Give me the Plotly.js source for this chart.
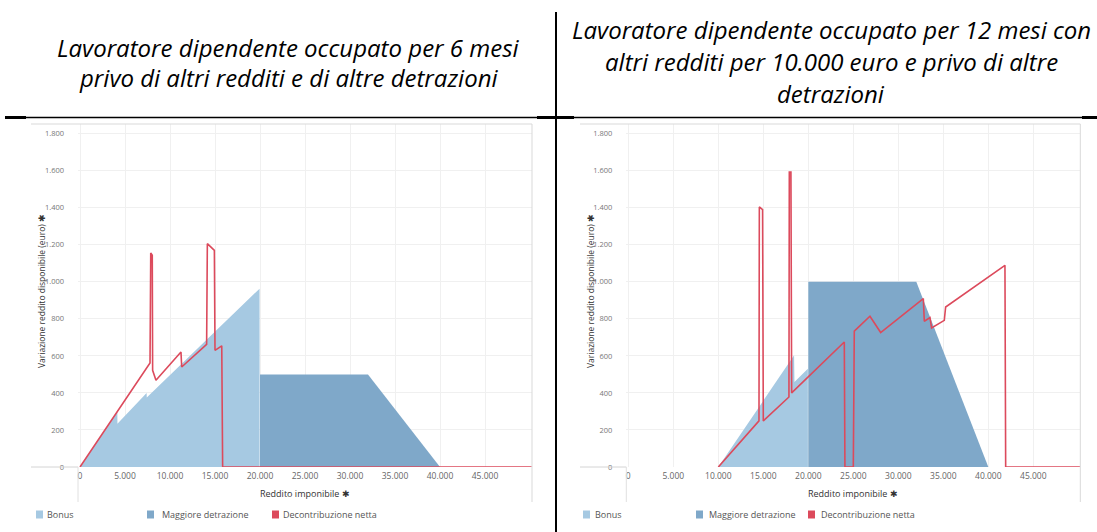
<!DOCTYPE html>
<html>
<head>
<meta charset="utf-8">
<script src="https://cdn.plot.ly/plotly-3.0.1.min.js"></script>
<style>html,body{margin:0;padding:0;background:#fff;}#chart{width:1097px;height:532px;}</style>
</head>
<body>
<div id="chart"></div>
<script>
// ---------- DATA ----------
const leftTitleLines = ["Lavoratore dipendente occupato per 6 mesi", "privo di altri redditi e di altre detrazioni"];
const rightTitleLines = ["Lavoratore dipendente occupato per 12 mesi con", "altri redditi per 10.000 euro e privo di altre", "detrazioni"];
const seriesNames = ["Bonus", "Maggiore detrazione", "Decontribuzione netta"];
const xTickValues = [0, 5000, 10000, 15000, 20000, 25000, 30000, 35000, 40000, 45000];
const yTickValues = [0, 200, 400, 600, 800, 1000, 1200, 1400, 1600, 1800];
const xAxisTitle = "Reddito imponibile ✱";
const yAxisTitle = "Variazione reddito disponibile (euro) ✱";

// Left chart
const leftBonusX = [0, 4150, 4160, 7400, 7420, 19950, 19960];
const leftBonusY = [0, 300, 234, 400, 375, 963, 0];
const leftDetrX = [20000, 20000, 32000, 40000];
const leftDetrY = [0, 500, 500, 0];
const leftDecoX = [0, 7780, 7860, 8030, 8070, 8440, 11220, 11300, 14070, 14150, 14930, 15000, 15750, 15850, 50200];
const leftDecoY = [0, 562, 1156, 1143, 522, 468, 621, 540, 662, 1206, 1170, 630, 654, 0, 0];

// Right chart
const rightBonusX = [10000, 18420, 18460, 19950, 19960];
const rightBonusY = [0, 603, 459, 531, 0];
const rightDetrX = [20000, 20000, 32000, 40000];
const rightDetrY = [0, 1000, 1000, 0];
const rightDecoX = [10000, 14520, 14560, 14920, 15000, 17850, 17890, 18070, 18150, 24000, 24070, 25000, 25110, 26850, 28040, 32780, 32890, 33520, 33700, 35110, 35260, 41850, 41930, 50200];
const rightDecoY = [0, 249, 1404, 1390, 249, 378, 1593, 1593, 400, 675, 0, 0, 734, 814, 726, 909, 787, 807, 751, 792, 864, 1089, 0, 0];

// ---------- STYLE ----------
const W = 1097, H = 532;
const C_BONUS = '#a6c9e2', C_DETR = '#7fa8c9', C_DECO = '#dc4a5c';
const FONT = 'Open Sans, Noto Sans, sans-serif';
const px = v => v / W;
const py = v => 1 - v / H;

function areaTrace(x, y, color, name, xa, ya) {
  return {x, y, type: 'scatter', mode: 'lines', fill: 'tozeroy', fillcolor: color,
    line: {width: 0, color: color}, name, xaxis: xa, yaxis: ya, showlegend: false, hoverinfo: 'skip'};
}
function lineTrace(x, y, color, name, xa, ya) {
  return {x, y, type: 'scatter', mode: 'lines', line: {width: 1.6, color: color},
    name, xaxis: xa, yaxis: ya, showlegend: false, hoverinfo: 'skip'};
}

const data = [
  areaTrace(leftBonusX, leftBonusY, C_BONUS, seriesNames[0], 'x', 'y'),
  areaTrace(leftDetrX, leftDetrY, C_DETR, seriesNames[1], 'x', 'y'),
  lineTrace(leftDecoX, leftDecoY, C_DECO, seriesNames[2], 'x', 'y'),
  areaTrace(rightBonusX, rightBonusY, C_BONUS, seriesNames[0], 'x2', 'y2'),
  areaTrace(rightDetrX, rightDetrY, C_DETR, seriesNames[1], 'x2', 'y2'),
  lineTrace(rightDecoX, rightDecoY, C_DECO, seriesNames[2], 'x2', 'y2')
];

const panels = [
  {left: 78, right: 532, outer: 31, titleX: 288, titleLines: leftTitleLines, titleY: [47, 77.5], ytX: 41,
   legend: [[36, 45], [147, 160], [272, 281]]},
  {left: 626.3, right: 1080.3, outer: 580, titleX: 831, titleLines: rightTitleLines, titleY: [30, 61, 93], ytX: 590,
   legend: [[583, 593], [696, 707], [808, 819]]}
];
const TOP = 124, BOT = 467, AXB = 502, LEGY = 514.5;

function xAxis(p, anchor) {
  return {domain: [px(p.left), px(p.right)], range: [-222, 50222], anchor,
    tickvals: xTickValues, tickformat: ',d', showgrid: true, gridcolor: '#f0f0f0', gridwidth: 1,
    zeroline: false, showline: false, ticks: '', ticklabelstandoff: 2,
    tickfont: {family: FONT, size: 8.5, color: '#666'}, fixedrange: true};
}
function yAxis(p, anchor) {
  return {domain: [py(BOT), py(TOP)], range: [0, 1852], anchor,
    tickvals: yTickValues, tickformat: ',d', showgrid: true, gridcolor: '#f0f0f0', gridwidth: 1,
    zeroline: false, showline: false, ticks: '', ticklabelstandoff: 13,
    tickfont: {family: FONT, size: 7.5, color: '#777'}, fixedrange: true};
}

const shapes = [];
const annotations = [];
const L = (x0, y0, x1, y1, color, w) => shapes.push({type: 'line', xref: 'paper', yref: 'paper',
  x0: px(x0), y0: py(y0), x1: px(x1), y1: py(y1), line: {color, width: w}});

panels.forEach((p, i) => {
  // panel borders
  L(p.outer, TOP, p.right, TOP, '#d9d9d9', 1);
  L(p.right, TOP, p.right, AXB, '#d9d9d9', 1);
  L(p.outer, BOT, p.left, BOT, '#d4d4d4', 1);
  L(p.left, BOT, p.left, AXB, '#e0e0e0', 1);
  // chart title, one annotation per line
  p.titleLines.forEach((t, k) => {
    annotations.push({xref: 'paper', yref: 'paper', x: px(p.titleX), y: py(p.titleY[k]), xanchor: 'center', yanchor: 'middle',
      text: '<i>' + t + '</i>', showarrow: false, align: 'center',
      font: {family: 'Open Sans, sans-serif', size: 24, color: '#000'}});
  });
  // axis titles
  annotations.push({xref: 'paper', yref: 'paper', x: px((p.left + p.right) / 2), y: py(493), xanchor: 'center', yanchor: 'middle',
    text: xAxisTitle, showarrow: false, font: {family: FONT, size: 9, color: '#333'}});
  annotations.push({xref: 'paper', yref: 'paper', x: px(p.ytX), y: py(291), xanchor: 'center', yanchor: 'middle',
    text: yAxisTitle, textangle: -90, showarrow: false, font: {family: FONT, size: 8.5, color: '#333'}});
  // legend
  const cols = [C_BONUS, C_DETR, C_DECO];
  p.legend.forEach((pos, k) => {
    shapes.push({type: 'rect', xref: 'paper', yref: 'paper', x0: px(pos[0]), x1: px(pos[0] + 7),
      y0: py(LEGY + 4), y1: py(LEGY - 4), fillcolor: cols[k], line: {width: 0}});
    annotations.push({xref: 'paper', yref: 'paper', x: px(pos[1]), y: py(LEGY), xanchor: 'left', yanchor: 'middle',
      text: seriesNames[k], showarrow: false, font: {family: FONT, size: 9, color: '#555'}});
  });
});

// document table lines
L(556, 12, 556, 532, '#000', 2);
L(5, 117.5, 1097, 117.5, '#000', 1.5);
L(5, 117.5, 26, 117.5, '#000', 3);
L(537, 117.5, 574, 117.5, '#000', 3);
L(1082, 117.5, 1097, 117.5, '#000', 3);

const layout = {
  width: W, height: H, margin: {l: 0, r: 0, t: 0, b: 0},
  paper_bgcolor: '#fff', plot_bgcolor: '#fff', separators: ',.', showlegend: false,
  xaxis: xAxis(panels[0], 'y'), yaxis: yAxis(panels[0], 'x'),
  xaxis2: xAxis(panels[1], 'y2'), yaxis2: yAxis(panels[1], 'x2'),
  shapes, annotations
};
Plotly.newPlot('chart', data, layout, {displayModeBar: false, staticPlot: true});
</script>
</body>
</html>
